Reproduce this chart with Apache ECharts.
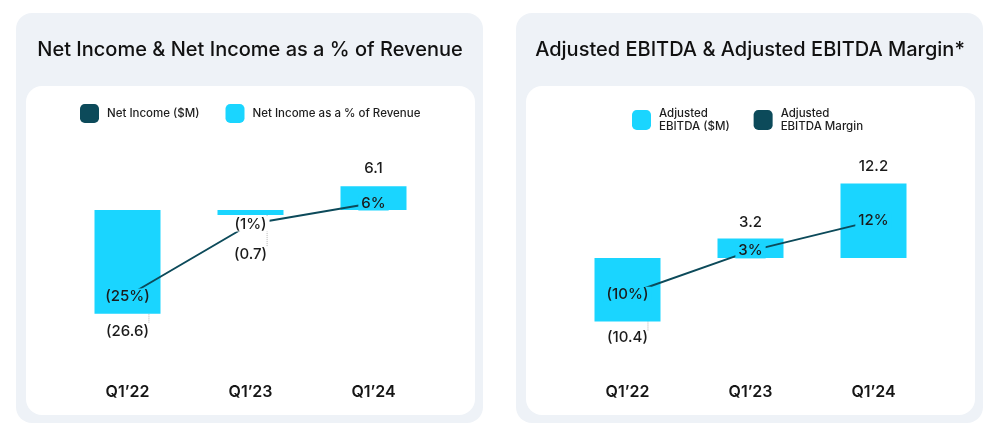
<!DOCTYPE html>
<html>
<head>
<meta charset="utf-8">
<script src="https://cdn.jsdelivr.net/npm/echarts@6/dist/echarts.min.js"></script>
<style>
html,body{margin:0;padding:0;background:#fff;}
#chart{width:1000px;height:444px;}
</style>
</head>
<body>
<div id="chart"></div>
<script>
// ---- data ----
const categories = ['Q1\u201922', 'Q1\u201923', 'Q1\u201924'];
const netIncome = [-26.6, -0.7, 6.1];            // $M
const netIncomePct = [-25, -1, 6];               // % of revenue
const adjEbitda = [-10.4, 3.2, 12.2];            // $M
const adjEbitdaMargin = [-10, 3, 12];            // %
const titleLeft = 'Net Income & Net Income as a % of Revenue';
const titleRight = 'Adjusted EBITDA & Adjusted EBITDA Margin*';
const nameNI = 'Net Income ($M)';
const nameNIPct = 'Net Income as a % of Revenue';
const nameEB = 'Adjusted EBITDA ($M)';
const nameEBM = 'Adjusted EBITDA Margin';

// ---- style ----
const CYAN = '#1ad5ff';
const DARK = '#0c4a5a';
const PANEL = '#eef2f7';
const TXT = '#1b1b1b';
const FONT = 'Inter, "Noto Sans", sans-serif';

const fmtNum = v => v < 0 ? '(' + Math.abs(v).toFixed(1) + ')' : v.toFixed(1);
const fmtPct = v => v < 0 ? '(' + Math.abs(v) + '%)' : v + '%';

const chart = echarts.init(document.getElementById('chart'), null, {renderer: 'canvas'});

function barSeries(name, vals, xi, yi, dists) {
  return {
    name, type: 'bar', xAxisIndex: xi, yAxisIndex: yi,
    barWidth: 66, barMinHeight: 5, z: 2,
    itemStyle: {color: CYAN},
    label: {show: true, fontFamily: FONT, fontSize: 15, fontWeight: 500, color: TXT,
      formatter: p => fmtNum(p.value)},
    labelLine: {show: true, lineStyle: {color: '#b5b5b5', width: 1, type: 'dotted'}},
    data: vals.map((v, i) => ({value: v, label: {position: v < 0 ? 'bottom' : 'top', distance: dists[i]}}))
  };
}
function lineSeries(name, vals, xi, yi, bgs) {
  return {
    name, type: 'line', xAxisIndex: xi, yAxisIndex: yi, z: 5,
    symbol: 'circle', symbolSize: 2,
    itemStyle: {color: DARK},
    lineStyle: {color: DARK, width: 2},
    label: {show: true, position: 'inside', fontFamily: FONT, fontSize: 15, fontWeight: 500, color: TXT,
      padding: [0, 3], lineHeight: 15, formatter: p => fmtPct(p.value)},
    data: vals.map((v, i) => ({value: v, label: {backgroundColor: bgs[i]}}))
  };
}
function xAxis(gi) {
  return {
    type: 'category', gridIndex: gi, data: categories,
    axisLine: {show: false}, axisTick: {show: false}, splitLine: {show: false},
    axisLabel: {margin: 24, fontFamily: FONT, fontSize: 16, fontWeight: 600, color: '#151515'}
  };
}
function yAxis(gi, min, max) {
  return {type: 'value', gridIndex: gi, min, max, show: false, splitLine: {show: false}};
}

function panel(x) {
  return [
    {type: 'rect', shape: {x: x, y: 13, width: 467, height: 410, r: 16}, style: {fill: PANEL}, z: -10},
    {type: 'rect', shape: {x: x + 10, y: 86, width: 449, height: 329, r: 16}, style: {fill: '#ffffff'}, z: -9}
  ];
}

const option = {
  animation: false,
  backgroundColor: '#ffffff',
  graphic: [
    ...panel(16), ...panel(516),
    {type: 'text', x: 250, y: 50, z: 10, style: {text: titleLeft, align: 'center', verticalAlign: 'middle',
      font: '500 20px ' + FONT, fill: '#111111'}},
    {type: 'text', x: 750, y: 50, z: 10, style: {text: titleRight, align: 'center', verticalAlign: 'middle',
      font: '500 20px ' + FONT, fill: '#111111'}}
  ],
  legend: [
    {left: 80, top: 104, padding: 0, itemWidth: 19, itemHeight: 19, itemGap: 26, icon: 'roundRect', selectedMode: false,
      textStyle: {fontFamily: FONT, fontSize: 11.5, fontWeight: 500, color: '#1e1e1e', padding: [0, 0, 0, 3]},
      data: [{name: nameNI, itemStyle: {color: DARK}}, {name: nameNIPct, itemStyle: {color: CYAN}}]},
    {left: 632, top: 107, padding: 0, itemWidth: 19, itemHeight: 20, itemGap: 24, icon: 'roundRect', selectedMode: false,
      textStyle: {fontFamily: FONT, fontSize: 11.5, fontWeight: 500, color: '#1e1e1e', lineHeight: 13, padding: [0, 0, 0, 3]},
      formatter: n => n.replace('Adjusted ', 'Adjusted\n'),
      data: [{name: nameEB, itemStyle: {color: CYAN}}, {name: nameEBM, itemStyle: {color: DARK}}]}
  ],
  grid: [
    {left: 66, width: 369, top: 140, height: 220},
    {left: 566, width: 369, top: 140, height: 220}
  ],
  xAxis: [xAxis(0), xAxis(1)],
  yAxis: [
    yAxis(0, -38.5, 18),
    yAxis(0, -46.33, 27),
    yAxis(1, -16.72, 19.34),
    yAxis(1, -29.73, 36.27)
  ],
  series: [
    barSeries(nameNI, netIncome, 0, 0, [10, 32, 10]),
    lineSeries(nameNIPct, netIncomePct, 0, 1, [CYAN, '#ffffff', CYAN]),
    barSeries(nameEB, adjEbitda, 1, 2, [9, 8, 10]),
    lineSeries(nameEBM, adjEbitdaMargin, 1, 3, [CYAN, CYAN, CYAN])
  ]
};
chart.setOption(option);
</script>
</body>
</html>
